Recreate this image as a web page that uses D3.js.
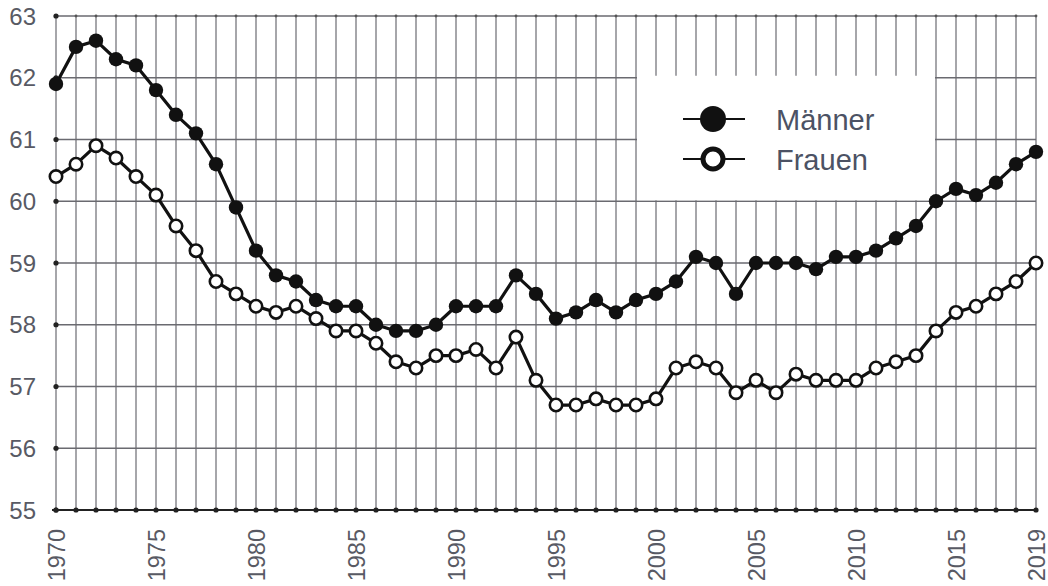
<!DOCTYPE html>
<html>
<head>
<meta charset="utf-8">
<script src="https://d3js.org/d3.v7.min.js"></script>
<style>
  body { margin: 0; background: #fff; }
  svg { display: block; font-family: "Liberation Sans", Arial, sans-serif; }
  .grid-h line { stroke: #6a6a70; stroke-width: 1.6; }
  .grid-v line { stroke: #808086; stroke-width: 1.4; }
  .ylab { fill: #585a64; font-size: 24px; }
  .xlab { fill: #585a64; font-size: 23.5px; }
  .legend text { fill: #4c5264; font-size: 29px; }
</style>
</head>
<body>
<svg width="1048" height="586"></svg>
<script>
var years = d3.range(1970, 2020);
var maenner = [61.9, 62.5, 62.6, 62.3, 62.2, 61.8, 61.4, 61.1, 60.6, 59.9,
               59.2, 58.8, 58.7, 58.4, 58.3, 58.3, 58.0, 57.9, 57.9, 58.0,
               58.3, 58.3, 58.3, 58.8, 58.5, 58.1, 58.2, 58.4, 58.2, 58.4,
               58.5, 58.7, 59.1, 59.0, 58.5, 59.0, 59.0, 59.0, 58.9, 59.1,
               59.1, 59.2, 59.4, 59.6, 60.0, 60.2, 60.1, 60.3, 60.6, 60.8];
var frauen = [60.4, 60.6, 60.9, 60.7, 60.4, 60.1, 59.6, 59.2, 58.7, 58.5,
              58.3, 58.2, 58.3, 58.1, 57.9, 57.9, 57.7, 57.4, 57.3, 57.5,
              57.5, 57.6, 57.3, 57.8, 57.1, 56.7, 56.7, 56.8, 56.7, 56.7,
              56.8, 57.3, 57.4, 57.3, 56.9, 57.1, 56.9, 57.2, 57.1, 57.1,
              57.1, 57.3, 57.4, 57.5, 57.9, 58.2, 58.3, 58.5, 58.7, 59.0];
var yTicks = [55, 56, 57, 58, 59, 60, 61, 62, 63];
var xLabels = [1970, 1975, 1980, 1985, 1990, 1995, 2000, 2005, 2010, 2015, 2019];
var series = [
  { name: "Männer", values: maenner, filled: true },
  { name: "Frauen", values: frauen, filled: false }
];

var svg = d3.select("svg");
var x = d3.scaleLinear().domain([1970, 2019]).range([56, 1036]);
var y = d3.scaleLinear().domain([55, 63]).range([510, 16]);

// vertical grid
svg.append("g").attr("class", "grid-v")
  .selectAll("line").data(years).enter().append("line")
  .attr("x1", d => x(d)).attr("x2", d => x(d))
  .attr("y1", y(63)).attr("y2", y(55));

// horizontal grid
svg.append("g").attr("class", "grid-h")
  .selectAll("line").data(yTicks.slice(1)).enter().append("line")
  .attr("x1", x(1970)).attr("x2", x(2019))
  .attr("y1", d => y(d)).attr("y2", d => y(d));

// bottom axis line
svg.append("line")
  .attr("x1", x(1970) - 4).attr("x2", x(2019))
  .attr("y1", y(55)).attr("y2", y(55))
  .attr("stroke", "#222").attr("stroke-width", 2.2);

// little tick marks on axes
svg.append("g").selectAll("circle").data(years).enter().append("circle")
  .attr("cx", d => x(d)).attr("cy", y(55)).attr("r", 2.6).attr("fill", "#222");
svg.append("g").selectAll("circle").data(years).enter().append("circle")
  .attr("cx", d => x(d)).attr("cy", y(63)).attr("r", 1.4).attr("fill", "#555");
svg.append("g").selectAll("circle").data(yTicks).enter().append("circle")
  .attr("cx", x(1970)).attr("cy", d => y(d)).attr("r", 2.6).attr("fill", "#222");

// y labels
svg.append("g").selectAll("text").data(yTicks).enter().append("text")
  .attr("class", "ylab")
  .attr("x", 36).attr("y", d => y(d) + 8.5)
  .attr("text-anchor", "end")
  .text(d => d);

// x labels (rotated)
svg.append("g").selectAll("text").data(xLabels).enter().append("text")
  .attr("class", "xlab")
  .attr("transform", d => "translate(" + (x(d) + 8.5) + "," + 529 + ") rotate(-90)")
  .attr("text-anchor", "end")
  .text(d => d);

// legend background (covers grid)
var lg = svg.append("g").attr("class", "legend");
lg.append("rect")
  .attr("x", x(1999) + 1).attr("y", y(62) - 2)
  .attr("width", x(2014) - x(1999) - 2).attr("height", y(60) - y(62) + 1)
  .attr("fill", "#fff");

// lines and markers
var line = d3.line()
  .x((d, i) => x(years[i]))
  .y(d => y(d));

series.forEach(function(s) {
  svg.append("path")
    .datum(s.values)
    .attr("d", line)
    .attr("fill", "none")
    .attr("stroke", "#111")
    .attr("stroke-width", 3.2)
    .attr("stroke-linejoin", "round");
  svg.append("g").selectAll("circle").data(s.values).enter().append("circle")
    .attr("cx", (d, i) => x(years[i]))
    .attr("cy", d => y(d))
    .attr("r", s.filled ? 7.2 : 6.2)
    .attr("fill", s.filled ? "#111" : "#fff")
    .attr("stroke", "#111")
    .attr("stroke-width", s.filled ? 0 : 2.6);
});

// legend entries
series.forEach(function(s, i) {
  var cy = 119 + i * 40;
  lg.append("line")
    .attr("x1", 683).attr("x2", 745)
    .attr("y1", cy).attr("y2", cy)
    .attr("stroke", "#111").attr("stroke-width", 2);
  lg.append("circle")
    .attr("cx", 713).attr("cy", cy)
    .attr("r", s.filled ? 13 : 10)
    .attr("fill", s.filled ? "#111" : "#fff")
    .attr("stroke", "#111")
    .attr("stroke-width", s.filled ? 0 : 5);
  lg.append("text")
    .attr("x", 776).attr("y", cy + 11)
    .text(s.name);
});
</script>
</body>
</html>
